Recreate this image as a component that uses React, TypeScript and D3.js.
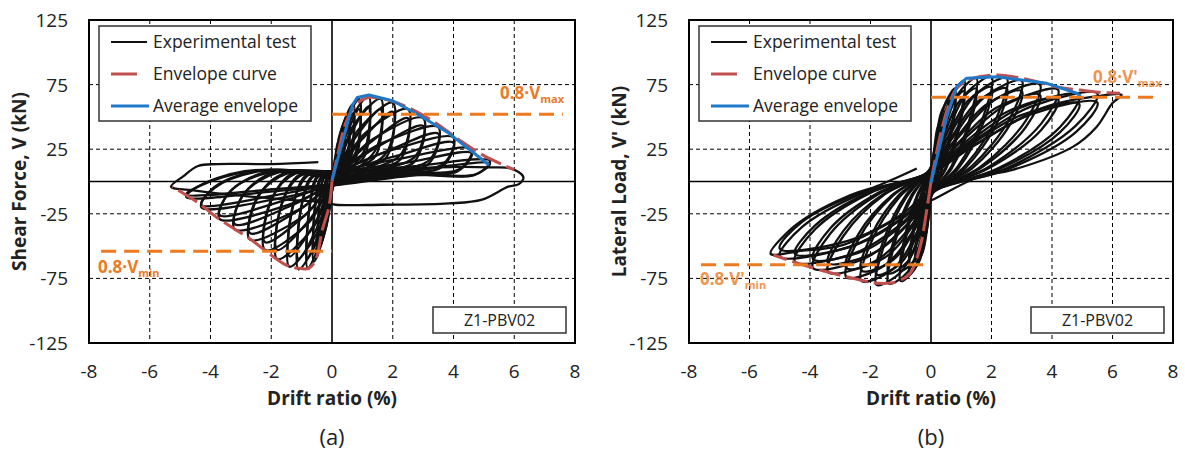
import * as d3 from "d3";

type Pt = [number, number];

const X_TICKS = [-8, -6, -4, -2, 0, 2, 4, 6, 8];
const Y_TICKS = [125, 75, 25, -25, -75, -125];
const GRID_X = [-6, -4, -2, 2, 4, 6];
const GRID_Y = [75, 25, -25, -75];
const LEGEND_LABELS = ["Experimental test", "Envelope curve", "Average envelope"];

// ---- panel (a): shear force ----
const loopsA: Pt[][] = [
  [[-0.03, 1], [0.07, 11], [0.15, 16], [0.14, 6], [0.08, 5], [0.04, -3], [-0.04, -8], [-0.1, -14], [-0.09, -4], [-0.06, 1]],
  [[-0.03, 2], [0.11, 19], [0.25, 28], [0.23, 11], [0.14, 6], [0.04, -3], [-0.07, -16], [-0.2, -27], [-0.18, -8], [-0.12, 2]],
  [[-0.03, 2], [0.18, 29], [0.4, 42], [0.37, 17], [0.22, 8], [0.04, -3], [-0.1, -24], [-0.3, -40], [-0.28, -12], [-0.18, 2]],
  [[-0.03, 3], [0.25, 36], [0.55, 53], [0.51, 21], [0.3, 9], [0.04, -3], [-0.16, -32], [-0.45, -53], [-0.41, -16], [-0.27, 3]],
  [[-0.03, 3], [0.32, 41], [0.7, 60], [0.64, 24], [0.39, 10], [0.04, -3], [-0.21, -37], [-0.6, -62], [-0.55, -19], [-0.36, 3]],
  [[-0.03, 4], [0.41, 44], [0.9, 64], [0.83, 26], [0.5, 11], [0.04, -3], [-0.28, -40], [-0.8, -67], [-0.74, -20], [-0.48, 4]],
  [[-0.03, 4], [0.54, 45], [1.2, 66], [1.1, 26], [0.66, 11], [0.04, -3], [-0.39, -41], [-1.1, -68], [-1.01, -20], [-0.66, 4]],
  [[-0.03, 5], [0.72, 44], [1.6, 64], [1.47, 26], [0.88, 11], [0.04, -3], [-0.49, -40], [-1.4, -66], [-1.29, -20], [-0.84, 5]],
  [[-0.03, 5], [0.9, 41], [2.0, 61], [1.84, 24], [1.1, 10], [0.04, -3], [-0.63, -36], [-1.8, -60], [-1.66, -18], [-1.08, 5]],
  [[-0.03, 6], [1.12, 38], [2.5, 56], [2.3, 22], [1.38, 10], [0.04, -3], [-0.77, -32], [-2.2, -53], [-2.02, -16], [-1.32, 6]],
  [[-0.03, 6], [1.35, 33], [3.0, 49], [2.76, 20], [1.65, 9], [0.04, -3], [-0.95, -27], [-2.7, -45], [-2.48, -14], [-1.62, 6]],
  [[-0.03, 7], [1.58, 29], [3.5, 42], [3.22, 17], [1.93, 8], [0.04, -3], [-1.12, -22], [-3.2, -37], [-2.94, -11], [-1.92, 7]],
  [[-0.03, 7], [1.8, 23], [4.0, 34], [3.68, 14], [2.2, 7], [0.04, -3], [-1.3, -17], [-3.7, -29], [-3.4, -9], [-2.22, 7]],
  [[-0.03, 8], [2.07, 17], [4.6, 25], [4.23, 10], [2.53, 6], [0.04, -3], [-1.5, -12], [-4.3, -20], [-3.96, -6], [-2.58, 8]],
  [[-0.03, 8], [2.34, 11], [5.2, 16], [4.78, 6], [2.86, 5], [0.04, -3], [-1.68, -7], [-4.8, -12], [-4.42, -4], [-2.88, 8]],
  // repeated cycles at the same drift, lower peaks
  [[-0.03, 3], [0.28, 29], [0.55, 47], [0.5, 16], [0.28, 8], [0.04, -2], [-0.18, -26], [-0.45, -47], [-0.4, -13], [-0.25, 3]],
  [[-0.03, 3], [0.35, 33], [0.7, 53], [0.63, 19], [0.35, 9], [0.04, -2], [-0.24, -30], [-0.6, -55], [-0.54, -15], [-0.33, 3]],
  [[-0.03, 4], [0.45, 35], [0.9, 56], [0.81, 20], [0.45, 10], [0.04, -2], [-0.32, -32], [-0.8, -59], [-0.72, -17], [-0.44, 4]],
  [[-0.03, 4], [0.6, 36], [1.2, 58], [1.08, 20], [0.6, 10], [0.04, -2], [-0.44, -33], [-1.1, -60], [-0.99, -17], [-0.6, 4]],
  [[-0.03, 5], [0.8, 35], [1.6, 56], [1.44, 20], [0.8, 10], [0.04, -2], [-0.56, -32], [-1.4, -58], [-1.26, -16], [-0.77, 5]],
  [[-0.03, 5], [1.0, 33], [2.0, 54], [1.8, 19], [1.0, 9], [0.04, -2], [-0.72, -29], [-1.8, -53], [-1.62, -15], [-0.99, 5]],
  [[-0.03, 6], [1.25, 30], [2.5, 49], [2.25, 17], [1.25, 9], [0.04, -2], [-0.88, -26], [-2.2, -47], [-1.98, -13], [-1.21, 6]],
  [[-0.03, 6], [1.5, 27], [3.0, 43], [2.7, 15], [1.5, 8], [0.04, -2], [-1.08, -22], [-2.7, -40], [-2.43, -11], [-1.49, 6]],
  [[-0.03, 7], [1.75, 23], [3.5, 37], [3.15, 13], [1.75, 8], [0.04, -2], [-1.28, -18], [-3.2, -33], [-2.88, -9], [-1.76, 7]],
  [[-0.03, 7], [2.0, 19], [4.0, 30], [3.6, 11], [2.0, 7], [0.04, -2], [-1.48, -14], [-3.7, -26], [-3.33, -7], [-2.04, 7]],
  [[-0.03, 8], [2.3, 14], [4.6, 22], [4.14, 8], [2.3, 6], [0.04, -2], [-1.72, -10], [-4.3, -18], [-3.87, -5], [-2.37, 8]],
  [[-0.03, 8], [2.6, 9], [5.2, 14], [4.68, 5], [2.6, 5], [0.04, -2], [-1.92, -6], [-4.8, -10], [-4.32, -3], [-2.64, 8]],
];
const finalA: Pt[] = [
  [0.04, -3], [1.5, 8], [3.5, 11], [5.2, 11], [5.9, 10], [6.3, 3.5], [6.15, -2], [5.8, -4], [4.94, -14],
  [3.85, -17], [1.66, -18], [0.12, -18], [-0.3, -16], [-1.5, -14], [-3, -11], [-4.5, -7], [-5.3, -4],
  [-4.9, 4], [-4.41, 12], [-3.78, 13.5], [-2, 13.5], [-0.45, 15],
];
const envPosA: Pt[] = [[0, 0], [0.2, 22], [0.45, 45], [0.8, 60], [1.2, 65], [2, 62], [2.7, 55], [3.5, 44], [4.2, 32], [5, 20], [6.0, 9]];
const envNegA: Pt[] = [[0, 0], [-0.1, -19.5], [-0.32, -37.5], [-0.54, -60.8], [-0.76, -67.2], [-1.09, -67.2], [-1.52, -64.6], [-2.73, -44], [-3.83, -27.2], [-4.38, -16.9], [-5.26, -4]];
const avgA: Pt[] = [[0, 1], [0.67, 59], [0.83, 65], [1.22, 67], [1.99, 62.5], [2.76, 52.8], [3.85, 37.3], [5.17, 12.8]];
const limitsA = [52, -54];

// ---- panel (b): lateral load ----
const loopsB: Pt[][] = [
  [[-0.03, 2], [0.03, 7], [0.06, 13], [0.1, 15], [0.09, 9], [0.05, 2], [0.03, -2], [-0.02, -7], [-0.04, -13], [-0.08, -15], [-0.07, -9], [-0.04, -2]],
  [[-0.03, 4], [0.05, 13], [0.12, 25], [0.2, 30], [0.17, 19], [0.09, 4], [0.03, -4], [-0.03, -15], [-0.09, -26], [-0.17, -30], [-0.14, -18], [-0.08, -4]],
  [[-0.03, 6], [0.09, 22], [0.21, 41], [0.35, 48], [0.3, 30], [0.16, 7], [0.03, -6], [-0.06, -23], [-0.17, -41], [-0.3, -47], [-0.26, -28], [-0.14, -7]],
  [[-0.03, 7], [0.14, 28], [0.33, 53], [0.55, 62], [0.48, 39], [0.25, 9], [0.03, -7], [-0.1, -31], [-0.28, -55], [-0.5, -62], [-0.43, -37], [-0.23, -9]],
  [[-0.03, 9], [0.2, 32], [0.48, 61], [0.8, 72], [0.7, 45], [0.36, 11], [0.03, -9], [-0.14, -36], [-0.39, -62], [-0.7, -71], [-0.6, -43], [-0.32, -11]],
  [[-0.03, 9], [0.28, 35], [0.66, 66], [1.1, 78], [0.96, 49], [0.5, 12], [0.03, -9], [-0.2, -39], [-0.55, -68], [-1.0, -77], [-0.85, -46], [-0.45, -12]],
  [[-0.03, 9], [0.38, 36], [0.9, 68], [1.5, 80], [1.3, 50], [0.68, 12], [0.03, -10], [-0.28, -40], [-0.77, -70], [-1.4, -79], [-1.19, -47], [-0.63, -12]],
  [[-0.03, 10], [0.5, 36], [1.2, 69], [2.0, 81], [1.74, 51], [0.9, 12], [0.03, -10], [-0.36, -40], [-0.99, -70], [-1.8, -80], [-1.53, -48], [-0.81, -12]],
  [[-0.03, 9], [0.62, 36], [1.5, 68], [2.5, 80], [2.18, 50], [1.12, 12], [0.03, -10], [-0.46, -39], [-1.27, -68], [-2.3, -77], [-1.96, -46], [-1.04, -12]],
  [[-0.03, 9], [0.75, 35], [1.8, 66], [3.0, 78], [2.61, 49], [1.35, 12], [0.03, -9], [-0.56, -37], [-1.54, -65], [-2.8, -74], [-2.38, -44], [-1.26, -11]],
  [[-0.03, 8], [0.9, 34], [2.16, 64], [3.6, 75], [3.13, 47], [1.62, 11], [0.03, -9], [-0.68, -35], [-1.87, -62], [-3.4, -70], [-2.89, -42], [-1.53, -10]],
  [[-0.03, 8], [1.05, 32], [2.52, 60], [4.2, 71], [3.65, 45], [1.89, 11], [0.03, -9], [-0.78, -33], [-2.15, -59], [-3.9, -67], [-3.32, -40], [-1.76, -10]],
  [[-0.03, 7], [1.22, 30], [2.94, 57], [4.9, 67], [4.26, 42], [2.2, 10], [0.03, -8], [-0.9, -31], [-2.48, -55], [-4.5, -62], [-3.83, -37], [-2.02, -9]],
  [[-0.03, 7], [1.38, 31], [3.3, 58], [5.5, 68], [4.78, 43], [2.48, 10], [0.03, -8], [-1.0, -29], [-2.75, -51], [-5.0, -58], [-4.25, -35], [-2.25, -9]],
  // repeated cycles at the same drift, lower peaks
  [[-0.03, 8], [0.2, 28], [0.48, 55], [0.8, 65], [0.7, 40], [0.36, 9], [0.03, -8], [-0.14, -31], [-0.39, -56], [-0.7, -64], [-0.6, -38], [-0.32, -9]],
  [[-0.03, 8], [0.28, 31], [0.66, 59], [1.1, 70], [0.96, 44], [0.5, 10], [0.03, -8], [-0.2, -34], [-0.55, -61], [-1.0, -69], [-0.85, -41], [-0.45, -10]],
  [[-0.03, 8], [0.38, 32], [0.9, 61], [1.5, 72], [1.3, 45], [0.68, 10], [0.03, -9], [-0.28, -35], [-0.77, -62], [-1.4, -71], [-1.19, -42], [-0.63, -10]],
  [[-0.03, 9], [0.5, 32], [1.2, 62], [2.0, 73], [1.74, 46], [0.9, 10], [0.03, -9], [-0.36, -36], [-0.99, -63], [-1.8, -72], [-1.53, -43], [-0.81, -10]],
  [[-0.03, 8], [0.62, 32], [1.5, 61], [2.5, 72], [2.18, 45], [1.12, 10], [0.03, -9], [-0.46, -34], [-1.27, -61], [-2.3, -69], [-1.96, -41], [-1.04, -10]],
  [[-0.03, 8], [0.75, 31], [1.8, 59], [3.0, 70], [2.61, 44], [1.35, 10], [0.03, -8], [-0.56, -33], [-1.54, -59], [-2.8, -67], [-2.38, -40], [-1.26, -10]],
  [[-0.03, 7], [0.9, 30], [2.16, 57], [3.6, 67], [3.13, 42], [1.62, 10], [0.03, -8], [-0.68, -31], [-1.87, -55], [-3.4, -63], [-2.89, -38], [-1.53, -9]],
  [[-0.03, 7], [1.05, 29], [2.52, 54], [4.2, 64], [3.65, 40], [1.89, 10], [0.03, -8], [-0.78, -30], [-2.15, -53], [-3.9, -60], [-3.32, -36], [-1.76, -9]],
  [[-0.03, 7], [1.22, 27], [2.94, 51], [4.9, 60], [4.26, 38], [2.2, 9], [0.03, -7], [-0.9, -28], [-2.48, -49], [-4.5, -56], [-3.83, -34], [-2.02, -8]],
  [[-0.03, 6], [1.38, 27], [3.3, 52], [5.5, 61], [4.78, 38], [2.48, 9], [0.03, -7], [-1.0, -26], [-2.75, -46], [-5.0, -52], [-4.25, -31], [-2.25, -8]],
];
const finalB: Pt[] = [
  [-0.03, 7], [1.55, 30], [3.7, 57], [5.5, 66], [6.3, 67], [6.0, 60.7], [5.48, 42.4], [4.7, 27], [2.7, 9],
  [1.6, 3.7], [0.07, -14], [-1.06, -28], [-2.9, -49], [-4.4, -54], [-5.3, -56], [-4.66, -37.5],
  [-3.89, -24.6], [-2.79, -11.8], [-1.69, -2.7], [-0.47, 10],
];
const envPosB: Pt[] = [[0, 0], [0.3, 35], [0.6, 60], [0.85, 72], [1.3, 79], [2.17, 82.5], [3.2, 79], [4.2, 73], [4.93, 70.8], [5.6, 69], [6.25, 68.3]];
const envNegB: Pt[] = [[0, 0], [-0.14, -22], [-0.36, -50.5], [-0.69, -71], [-1.13, -77.5], [-1.69, -78.8], [-2.79, -73.7], [-3.89, -67], [-5.21, -56.9]];
const avgB: Pt[] = [[0, -1], [0.52, 50], [0.85, 73.4], [1.18, 80], [2.17, 81], [3.83, 76], [4.82, 68.3], [4.95, 66]];
const limitsB = [65.2, -64.4];

const BLACK = "#111";
const RED = "#C0504D";
const BLUE = "#1F78C8";
const ORANGE = "#EC7A1F";
const FONT = "'Open Sans', sans-serif";

type PanelProps = {
  left: number;
  right: number;
  top: number;
  bottom: number;
  loops: Pt[][];
  final: Pt[];
  envPos: Pt[];
  envNeg: Pt[];
  avg: Pt[];
  limits: number[];
  yTitle: string;
  prime: string;
  caption: string;
  maxLabelPos: [number, number];
  minLabelPos: [number, number];
  labelOpacity: number;
};

function Panel(p: PanelProps) {
  const x = d3.scaleLinear().domain([-8, 8]).range([p.left, p.right]);
  const y = d3.scaleLinear().domain([-125, 125]).range([p.bottom, p.top]);
  const line = d3.line<Pt>().x((d) => x(d[0])).y((d) => y(d[1]));
  const smooth = d3.line<Pt>().x((d) => x(d[0])).y((d) => y(d[1])).curve(d3.curveCatmullRom.alpha(0.5));
  const loop = d3.line<Pt>().x((d) => x(d[0])).y((d) => y(d[1])).curve(d3.curveCatmullRomClosed.alpha(0.5));
  const cx = (p.left + p.right) / 2;
  const lx = p.left + 10;
  const ly = p.top + 6;

  return (
    <g fontFamily={FONT}>
      {GRID_X.map((v) => (
        <line key={"gx" + v} x1={x(v)} x2={x(v)} y1={p.top} y2={p.bottom} stroke="#000" strokeWidth={1} strokeDasharray="4,3" />
      ))}
      {GRID_Y.map((v) => (
        <line key={"gy" + v} x1={p.left} x2={p.right} y1={y(v)} y2={y(v)} stroke="#000" strokeWidth={1} strokeDasharray="4,3" />
      ))}
      <line x1={x(0)} x2={x(0)} y1={p.top} y2={p.bottom} stroke="#000" strokeWidth={1.6} />
      <line x1={p.left} x2={p.right} y1={y(0)} y2={y(0)} stroke="#000" strokeWidth={1.6} />

      {p.loops.map((c, i) => (
        <path key={"l" + i} d={loop(c) || ""} fill="none" stroke={BLACK} strokeWidth={2.3} />
      ))}
      <path d={smooth(p.final) || ""} fill="none" stroke={BLACK} strokeWidth={2.3} />

      <path d={smooth(p.envPos) || ""} fill="none" stroke={RED} strokeWidth={3} strokeDasharray="22,6" />
      <path d={smooth(p.envNeg) || ""} fill="none" stroke={RED} strokeWidth={3} strokeDasharray="22,6" />
      <path d={line(p.avg) || ""} fill="none" stroke={BLUE} strokeWidth={3} strokeLinejoin="round" />

      <line x1={x(0)} x2={x(7.6)} y1={y(p.limits[0])} y2={y(p.limits[0])} stroke={ORANGE} strokeWidth={3} strokeDasharray="15,8" />
      <line x1={x(-7.6)} x2={x(0)} y1={y(p.limits[1])} y2={y(p.limits[1])} stroke={ORANGE} strokeWidth={3} strokeDasharray="15,8" />
      <text x={p.maxLabelPos[0]} y={p.maxLabelPos[1]} fill={ORANGE} fontSize={17} fontWeight="bold" opacity={p.labelOpacity}>
        {"0.8·V" + p.prime}
        <tspan fontSize={11} dy={4}>max</tspan>
      </text>
      <text x={p.minLabelPos[0]} y={p.minLabelPos[1]} fill={ORANGE} fontSize={17} fontWeight="bold" opacity={p.labelOpacity}>
        {"0.8·V" + p.prime}
        <tspan fontSize={11} dy={4}>min</tspan>
      </text>

      {/* legend */}
      <rect x={lx} y={ly} width={212} height={95} fill="#fff" stroke="#333" strokeWidth={1.5} />
      {LEGEND_LABELS.map((t, i) => {
        const ry = ly + 16 + i * 32;
        const colors = [BLACK, RED, BLUE];
        const x2 = [148, 138, 150][i] - 100 + lx;
        return (
          <g key={t}>
            <line x1={lx + 12} x2={x2} y1={ry} y2={ry} stroke={colors[i]} strokeWidth={i === 0 ? 2 : 3} />
            <text x={lx + 54} y={ry + 6} fontSize={17.5} fill="#222">{t}</text>
          </g>
        );
      })}

      <rect x={p.right - 142} y={p.bottom - 36} width={133} height={26} fill="#fff" stroke="#333" strokeWidth={1.5} />
      <text x={p.right - 75.5} y={p.bottom - 17} fontSize={16} fill="#222" textAnchor="middle">Z1-PBV02</text>

      <rect x={p.left} y={p.top} width={p.right - p.left} height={p.bottom - p.top} fill="none" stroke="#000" strokeWidth={2} />

      {Y_TICKS.map((v) => (
        <text key={"yt" + v} x={p.left - 21} y={y(v) + 7} fontSize={19} textAnchor="end" fill="#222">{v}</text>
      ))}
      {X_TICKS.map((v) => (
        <text key={"xt" + v} x={x(v)} y={378} fontSize={19} textAnchor="middle" fill="#222">{v}</text>
      ))}
      <text x={cx} y={405} fontSize={19} fontWeight="bold" textAnchor="middle" fill="#222">Drift ratio (%)</text>
      <text transform={`translate(${p.left - 63},${(p.top + p.bottom) / 2}) rotate(-90)`} fontSize={19} fontWeight="bold" textAnchor="middle" fill="#222">{p.yTitle}</text>
      <text x={x(0)} y={445} fontSize={22} textAnchor="middle" fill="#222">{p.caption}</text>
    </g>
  );
}

export default function App() {
  return (
    <div style={{ position: "absolute", left: 0, top: 0, background: "#fff" }}>
      <svg width={1185} height={454} viewBox="0 0 1185 454">
        <rect width={1185} height={454} fill="#fff" />
        <Panel
          left={89} right={575} top={20} bottom={343}
          loops={loopsA} final={finalA} envPos={envPosA} envNeg={envNegA} avg={avgA} limits={limitsA}
          yTitle="Shear Force, V (kN)" prime="" caption="(a)"
          maxLabelPos={[500, 99]} minLabelPos={[98, 273]} labelOpacity={1}
        />
        <Panel
          left={689} right={1173} top={20} bottom={343}
          loops={loopsB} final={finalB} envPos={envPosB} envNeg={envNegB} avg={avgB} limits={limitsB}
          yTitle="Lateral Load, V' (kN)" prime="'" caption="(b)"
          maxLabelPos={[1093, 83]} minLabelPos={[700, 285]} labelOpacity={0.8}
        />
      </svg>
    </div>
  );
}
